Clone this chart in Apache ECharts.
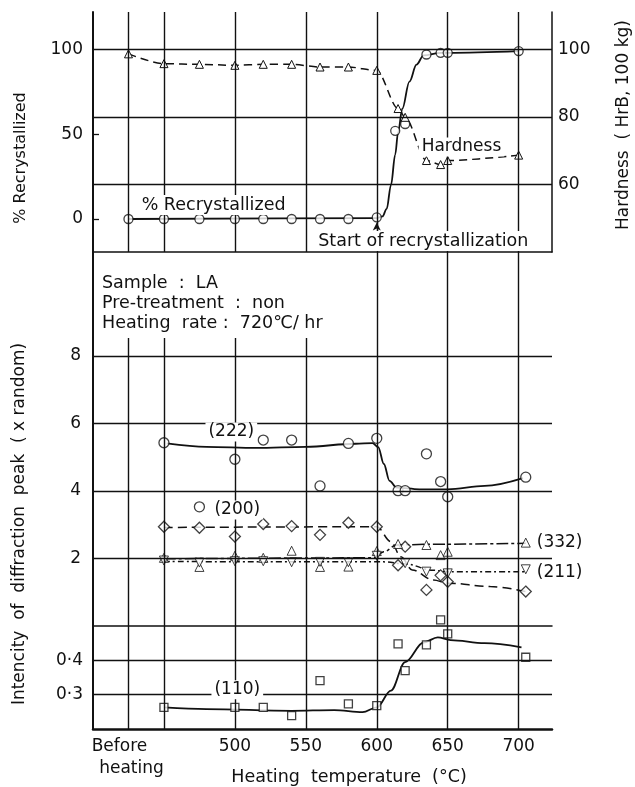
<!DOCTYPE html>
<html>
<head>
<meta charset="utf-8">
<script src="https://cdn.jsdelivr.net/npm/echarts@6/dist/echarts.min.js"></script>
<style>
  html, body { margin: 0; padding: 0; background: #fff; }
  #chart { width: 635px; height: 787px; }
</style>
</head>
<body>
<div id="chart"></div>
<script>
// ---- Recrystallization and hardness (top panel) ----
const recrystTemp = [425, 450, 475, 500, 520, 540, 560, 580, 600, 613, 620, 635, 645, 650, 700];
const recrystPct  = [0, 0, 0, 0, 0, 0, 0, 0, 1, 52, 56, 97, 98, 98, 99];
// hand-drawn recrystallization curve
const recrystFitTemp = [425, 600, 604, 607, 610, 613, 615, 618, 623, 628, 633, 645, 650, 700];
const recrystFitPct  = [0, 0.5, 1.5, 6, 20, 38, 51, 65, 81, 91, 96.5, 98, 98, 99];

const hardnessTemp = [425, 450, 475, 500, 520, 540, 560, 580, 600, 615, 620, 635, 645, 650, 700];
const hardnessHrB  = [98.7, 95.8, 95.6, 95.3, 95.6, 95.6, 94.8, 94.8, 93.8, 82.5, 79.9, 67.1, 65.9, 67.1, 68.7];

// ---- Diffraction peak intensities (x random) ----
const p222Temp = [450, 475, 500, 520, 540, 560, 580, 600, 615, 620, 635, 645, 650, 705];
const p222     = [5.43, 3.53, 4.94, 5.51, 5.51, 4.15, 5.41, 5.56, 4.01, 4.01, 5.10, 4.28, 3.83, 4.41];
const fit222Temp = [452, 480, 515, 550, 585, 597, 601, 605, 609, 614, 630, 650, 676, 703];
const fit222     = [5.41, 5.31, 5.28, 5.31, 5.40, 5.42, 5.30, 4.80, 4.30, 4.10, 4.05, 4.05, 4.15, 4.38];

const p200Temp = [450, 475, 500, 520, 540, 560, 580, 600, 615, 620, 635, 645, 650, 705];
const p200     = [2.94, 2.91, 2.65, 3.02, 2.96, 2.70, 3.06, 2.94, 1.80, 2.35, 1.07, 1.50, 1.31, 1.02];
const fit200Temp = [450, 600, 610, 617, 625, 640, 650, 680, 705];
const fit200     = [2.92, 2.94, 2.50, 2.05, 1.66, 1.36, 1.27, 1.17, 1.02];

const p332Temp = [450, 475, 500, 520, 540, 560, 580, 600, 615, 635, 645, 650, 705];
const p332     = [2.02, 1.75, 2.08, 2.02, 2.23, 1.75, 1.76, 2.22, 2.43, 2.40, 2.10, 2.20, 2.47];
const fit332Temp = [450, 598, 605, 614, 635, 705];
const fit332     = [1.99, 2.02, 2.20, 2.40, 2.42, 2.45];

const p211Temp = [450, 475, 500, 520, 540, 560, 580, 600, 620, 635, 650, 705];
const p211     = [1.94, 1.88, 1.92, 1.92, 1.89, 1.90, 1.89, 2.08, 1.86, 1.61, 1.56, 1.68];
const fit211Temp = [450, 605, 620, 640, 650, 705];
const fit211     = [1.91, 1.90, 1.84, 1.65, 1.61, 1.61];

const p110Temp = [450, 500, 520, 540, 560, 580, 600, 615, 620, 635, 645, 650, 705];
const p110     = [0.263, 0.263, 0.263, 0.239, 0.341, 0.273, 0.268, 0.448, 0.370, 0.445, 0.518, 0.477, 0.409];
const fit110Temp = [450, 480, 540, 570, 590, 600, 610, 620, 633, 643, 652, 676, 702];
const fit110     = [0.263, 0.258, 0.253, 0.255, 0.249, 0.263, 0.312, 0.395, 0.452, 0.467, 0.459, 0.450, 0.438];

// ---- Axis ticks and labels ----
const beforeTemp = 425;
const beforeLines = ['Before', 'heating'];
const tempLabels = [500, 550, 600, 650, 700];
const tempGrid  = [425, 450, 500, 550, 600, 650, 700];
const pctTicks = [0, 50, 100];
const hardTicks = [60, 80, 100];
const intTicks = [2, 4, 6, 8];
const lowTicks = [0.3, 0.4];

const INK = '#111';
const FONT = '"DejaVu Sans", "Liberation Sans", sans-serif';

const zip = (xs, ys) => xs.map((x, i) => [x, ys[i]]);

const X_MIN = 400, X_MAX = 723.5, X_STEP = 25;
const G = { left: 93, right: 83 };

function xAxisBase(gi, extra) {
  return Object.assign({
    type: 'value', gridIndex: gi, min: X_MIN, max: X_MAX, interval: X_STEP,
    axisLine: { show: false, onZero: false },
    axisTick: { show: false }, axisLabel: { show: false }, splitLine: { show: false }
  }, extra || {});
}

function gridLines(xi, yi, xs, ys) {
  const data = [];
  xs.forEach(v => data.push({ xAxis: v }));
  ys.forEach(v => data.push({ yAxis: v }));
  return {
    type: 'line', xAxisIndex: xi, yAxisIndex: yi, data: [], silent: true, z: 1,
    markLine: {
      silent: true, symbol: 'none', animation: false,
      label: { show: false },
      lineStyle: { color: INK, width: 1.4, type: 'solid' },
      emphasis: { disabled: true },
      data: data
    }
  };
}

function fitLine(xi, yi, xs, ys, dash, width) {
  return {
    type: 'line', xAxisIndex: xi, yAxisIndex: yi, data: zip(xs, ys),
    smooth: 0.35, smoothMonotone: 'x', showSymbol: false, silent: true, z: 3,
    lineStyle: { color: INK, width: width || 1.7, type: dash || 'solid' }
  };
}

function points(xi, yi, xs, ys, symbol, size, rotate, bw) {
  return {
    type: 'scatter', xAxisIndex: xi, yAxisIndex: yi, data: zip(xs, ys),
    symbol: symbol, symbolSize: size, symbolRotate: rotate || 0, clip: false, silent: true, z: 4,
    itemStyle: { color: '#fff', borderColor: INK, borderWidth: bw || 1.3 }
  };
}

const chart = echarts.init(document.getElementById('chart'), null, { renderer: 'canvas' });

const labelFont = { fontFamily: FONT, fontSize: 17, color: INK, lineHeight: 22 };

const option = {
  animation: false,
  backgroundColor: '#fff',
  textStyle: { fontFamily: FONT, color: INK },
  grid: [
    { left: G.left, right: G.right, top: 12, height: 240 },   // recrystallization / hardness
    { left: G.left, right: G.right, top: 252, height: 86 },   // spacer with sample notes
    { left: G.left, right: G.right, top: 338, height: 288 },  // intensity
    { left: G.left, right: G.right, top: 626, height: 103 }   // (110) intensity
  ],
  xAxis: [
    xAxisBase(0, { axisLine: { show: true, onZero: false, lineStyle: { color: INK, width: 1.5 } } }),
    xAxisBase(1),
    xAxisBase(2, { axisLine: { show: true, onZero: false, lineStyle: { color: INK, width: 1.5 } } }),
    xAxisBase(3, {
      axisLine: { show: true, onZero: false, lineStyle: { color: INK, width: 2.5 } },
      axisLabel: Object.assign({
        show: true, margin: 7, showMinLabel: true, showMaxLabel: true,
        formatter: v => (v === beforeTemp
          ? '{a|' + beforeLines[0] + '}\n{b|' + beforeLines[1] + '}'
          : (tempLabels.indexOf(v) >= 0 ? String(v) : '')),
        rich: {
          a: Object.assign({ padding: [0, 18, 0, 0] }, labelFont),
          b: Object.assign({ padding: [0, 0, 0, 6] }, labelFont)
        }
      }, labelFont)
    })
  ],
  yAxis: [
    { // % recrystallized
      type: 'value', gridIndex: 0, min: -19.46, max: 122.05, position: 'left',
      axisLine: { show: true, onZero: false, lineStyle: { color: INK, width: 2 } },
      axisTick: { show: true, inside: true, length: 6, customValues: [0, 50], lineStyle: { color: INK, width: 1.3 } },
      axisLabel: { customValues: pctTicks, margin: 10, color: INK, fontFamily: FONT, fontSize: 17 },
      splitLine: { show: false }
    },
    { // hardness HrB
      type: 'value', gridIndex: 0, min: 40, max: 111.1, position: 'right',
      axisLine: { show: true, onZero: false, lineStyle: { color: INK, width: 1.5 } },
      axisTick: { show: false },
      axisLabel: { customValues: hardTicks, margin: 6, color: INK, fontFamily: FONT, fontSize: 17 },
      splitLine: { show: false }
    },
    {
      type: 'value', gridIndex: 1, min: 0, max: 1,
      axisLine: { show: true, onZero: false, lineStyle: { color: INK, width: 2 } },
      axisTick: { show: false }, axisLabel: { show: false }, splitLine: { show: false }
    },
    {
      type: 'value', gridIndex: 2, min: 0, max: 8.533,
      axisLine: { show: true, onZero: false, lineStyle: { color: INK, width: 2 } },
      axisTick: { show: false },
      axisLabel: { customValues: intTicks, margin: 12, color: INK, fontFamily: FONT, fontSize: 17 },
      splitLine: { show: false }
    },
    {
      type: 'value', gridIndex: 3, min: 0.2, max: 0.5,
      axisLine: { show: true, onZero: false, lineStyle: { color: INK, width: 2 } },
      axisTick: { show: false },
      axisLabel: {
        customValues: lowTicks, margin: 10, color: INK, fontFamily: FONT, fontSize: 17,
        formatter: v => v.toFixed(1).replace('.', '·')
      },
      splitLine: { show: false }
    }
  ],
  series: [
    // frame / grid lines
    gridLines(0, 1, tempGrid, hardTicks),
    gridLines(1, 2, [600, 650, 700], []),
    gridLines(2, 3, tempGrid, intTicks),
    gridLines(3, 4, tempGrid, lowTicks),

    // top panel
    fitLine(0, 0, recrystFitTemp, recrystFitPct, 'solid', 1.8),
    points(0, 0, recrystTemp, recrystPct, 'circle', 9),
    {
      type: 'line', xAxisIndex: 0, yAxisIndex: 1, data: zip(hardnessTemp, hardnessHrB),
      smooth: 0.3, smoothMonotone: 'x', symbol: 'triangle', symbolSize: 8, showSymbol: true,
      silent: true, z: 4,
      lineStyle: { color: INK, width: 1.5, type: [8, 5] },
      itemStyle: { color: '#fff', borderColor: INK, borderWidth: 1 }
    },
    { // arrow marking the start of recrystallization
      type: 'line', xAxisIndex: 0, yAxisIndex: 0, data: [], silent: true, z: 4,
      markLine: {
        silent: true, symbol: ['none', 'arrow'], symbolSize: [6, 8], animation: false,
        label: { show: false }, lineStyle: { color: INK, width: 1.2, type: 'solid' },
        data: [[{ coord: [600, -8.5] }, { coord: [600, -2] }]]
      }
    },

    // intensity panel
    fitLine(2, 3, fit222Temp, fit222, 'solid', 1.8),
    points(2, 3, p222Temp, p222, 'circle', 10),
    fitLine(2, 3, fit200Temp, fit200, [9, 5], 1.5),
    points(2, 3, p200Temp, p200, 'diamond', 11),
    fitLine(2, 3, fit332Temp, fit332, [12, 3, 3, 3], 1.5),
    points(2, 3, p332Temp, p332, 'triangle', 9, 0, 1),
    fitLine(2, 3, fit211Temp, fit211, [6, 3, 2, 3], 1.5),
    points(2, 3, p211Temp, p211, 'triangle', 9, 180, 1),

    // (110)
    fitLine(3, 4, fit110Temp, fit110, 'solid', 1.8),
    points(3, 4, p110Temp, p110, 'rect', 8)
  ]
};

chart.setOption(option);

// ---- Text: annotations anchored to data, plus titles ----
function at(xi, yi, pt) {
  return chart.convertToPixel({ xAxisIndex: xi, yAxisIndex: yi }, pt);
}
function txt(pos, text, opts) {
  opts = opts || {};
  return {
    type: 'text', x: pos[0] + (opts.dx || 0), y: pos[1] + (opts.dy || 0), rotation: opts.rot || 0, z: 100,
    silent: true,
    style: {
      text: text, font: (opts.size || 17) + 'px ' + FONT, fill: INK,
      align: opts.align || 'center', verticalAlign: 'middle',
      backgroundColor: opts.bg ? '#fff' : null, padding: opts.bg ? [1, 3] : 0
    }
  };
}

const graphics = [
  // panel annotations
  txt(at(0, 0, [485, 8.25]), '% Recrystallized', { bg: true, size: 17.5 }),
  txt(at(0, 1, [659.7, 71.1]), 'Hardness', { bg: true }),
  txt(at(0, 0, [632.8, -13]), 'Start of recrystallization', { bg: true, size: 17.5 }),
  txt(at(2, 3, [497.5, 5.75]), '(222)', { bg: true }),
  txt(at(2, 3, [501.7, 3.44]), '(200)', { bg: true }),
  txt(at(2, 3, [705, 2.46]), '(332)', { align: 'left', dx: 11 }),
  txt(at(2, 3, [705, 1.57]), '(211)', { align: 'left', dx: 11 }),
  txt(at(3, 4, [501.7, 0.314]), '(110)', { bg: true }),

  // sample notes
  txt([102, 283], 'Sample  :  LA', { align: 'left', size: 17.5 }),
  txt([102, 303], 'Pre-treatment  :  non', { align: 'left', size: 17.5 }),
  txt([102, 323], 'Heating  rate :  720\u2103/ hr', { align: 'left', size: 17.5 }),

  // axis titles
  txt([21, 158], '% Recrystallized', { rot: Math.PI / 2, size: 16 }),
  txt([624, 125], 'Hardness  ( HrB, 100 kg)', { rot: Math.PI / 2 }),
  txt([20, 524], 'Intencity  of  diffraction  peak  ( x random)', { rot: Math.PI / 2 }),
  txt([349, 777], 'Heating  temperature  (\u00B0C)', { size: 17.5 })
];

chart.setOption({ graphic: { elements: graphics } });
</script>
</body>
</html>
